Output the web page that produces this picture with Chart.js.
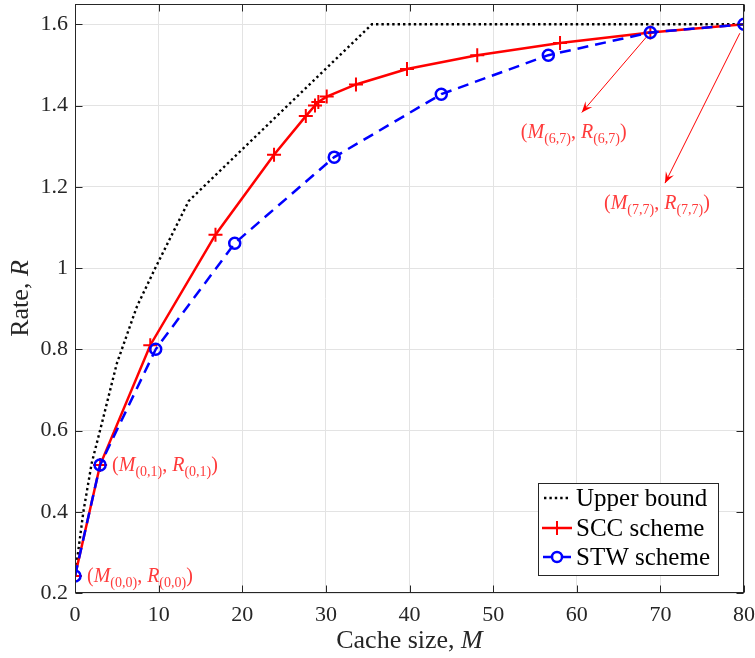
<!DOCTYPE html>
<html><head><meta charset="utf-8">
<script src="https://cdn.jsdelivr.net/npm/chart.js@4.4.1/dist/chart.umd.min.js"></script>
<style>html,body{margin:0;padding:0;background:#fff;}</style>
</head><body>
<canvas id="c" width="755" height="658"></canvas>
<script>
// ---- data ----
const ubM  = [0, 1, 2, 3.3, 5, 7.4, 9.6, 13.6, 35.5, 80];
const ubR  = [0.242, 0.40, 0.52, 0.625, 0.765, 0.905, 1.0, 1.165, 1.6, 1.6];
const sccM = [0, 3, 9, 16.8, 23.8, 27.6, 28.7, 29.1, 30.1, 33.6, 39.7, 48.1, 58.0, 68.8, 80];
const sccR = [0.242, 0.515, 0.81, 1.082, 1.279, 1.374, 1.400, 1.409, 1.422, 1.452, 1.490, 1.524, 1.554, 1.580, 1.60];
const stwM = [0, 3, 9.65, 19.1, 31.0, 43.8, 56.6, 68.8, 80];
const stwR = [0.242, 0.515, 0.80, 1.061, 1.273, 1.428, 1.524, 1.580, 1.60];
const xTicks = [0, 10, 20, 30, 40, 50, 60, 70, 80];
const xTickLabels = ['0', '10', '20', '30', '40', '50', '60', '70', '80'];
const yTicks = [0.2, 0.4, 0.6, 0.8, 1.0, 1.2, 1.4, 1.6];
const yTickLabels = ['0.2', '0.4', '0.6', '0.8', '1', '1.2', '1.4', '1.6'];
const seriesNames = ['Upper bound', 'SCC scheme', 'STW scheme'];
// annotation labels: [i, j, anchor M, anchor R]
const pointLabels = [['0', '0', 0, 0.242], ['0', '1', 3, 0.515]];
// arrow annotations: [tail M, tail R, head M, head R, label i, label j]
const arrowNotes = [[68.3, 1.568, 60.6, 1.383, '6', '7'], [79.5, 1.578, 70.55, 1.209, '7', '7']];

const SERIF = '"Liberation Serif", "Times New Roman", serif';
const AX = '#262626';
const toPts = (xs, ys) => xs.map((x, i) => ({x: x, y: ys[i]}));

function drawRuns(ctx, runs, x, y, color) {
  ctx.fillStyle = color;
  ctx.textBaseline = 'alphabetic';
  ctx.textAlign = 'left';
  let cx = x;
  for (const r of runs) {
    ctx.font = r.f;
    ctx.fillText(r.t, cx, y + (r.dy || 0));
    cx += ctx.measureText(r.t).width;
  }
  return cx - x;
}
function mathRuns(i, j) {
  const N = '20px ' + SERIF, I = 'italic 20px ' + SERIF, S = '14px ' + SERIF;
  const sub = '(' + i + ',' + j + ')';
  return [{t: '(', f: N}, {t: 'M', f: I}, {t: sub, f: S, dy: 5}, {t: ', ', f: N},
          {t: 'R', f: I}, {t: sub, f: S, dy: 5}, {t: ')', f: N}];
}
function arrowHead(ctx, x0, y0, x1, y1) {
  const a = Math.atan2(y1 - y0, x1 - x0), L = 11, W = 4.5;
  ctx.save();
  ctx.translate(x1, y1); ctx.rotate(a);
  ctx.beginPath();
  ctx.moveTo(0, 0); ctx.lineTo(-L, -W); ctx.lineTo(-L * 0.6, 0); ctx.lineTo(-L, W); ctx.closePath();
  ctx.fill();
  ctx.restore();
}

const overlay = {
  id: 'overlay',
  afterDraw(chart) {
    const {ctx, chartArea: {left, right, top, bottom}, scales: {x, y}} = chart;
    ctx.save();
    // frame + inward ticks
    ctx.strokeStyle = AX; ctx.lineWidth = 1;
    const L = Math.round(left) + 0.5, R = Math.round(right) - 0.5, T = Math.round(top) + 0.5, B = Math.round(bottom) - 0.5;
    ctx.strokeRect(L, T, R - L, B - T);
    ctx.beginPath();
    for (const v of xTicks) {
      const px = Math.round(x.getPixelForValue(v)) + 0.5;
      ctx.moveTo(px, B); ctx.lineTo(px, B - 7);
      ctx.moveTo(px, T); ctx.lineTo(px, T + 7);
    }
    for (const v of yTicks) {
      const py = Math.round(y.getPixelForValue(v)) + 0.5;
      ctx.moveTo(L, py); ctx.lineTo(L + 7, py);
      ctx.moveTo(R, py); ctx.lineTo(R - 7, py);
    }
    ctx.stroke();

    // axis titles
    const tN = '26px ' + SERIF, tI = 'italic 26px ' + SERIF;
    ctx.font = tN; let w1 = ctx.measureText('Cache size, ').width;
    ctx.font = tI; let w2 = ctx.measureText('M').width;
    const cxm = (left + right) / 2;
    drawRuns(ctx, [{t: 'Cache size, ', f: tN}, {t: 'M', f: tI}], cxm - (w1 + w2) / 2, 648, AX);
    ctx.save();
    ctx.translate(28, (top + bottom) / 2);
    ctx.rotate(-Math.PI / 2);
    ctx.font = tN; w1 = ctx.measureText('Rate, ').width;
    ctx.font = tI; w2 = ctx.measureText('R').width;
    drawRuns(ctx, [{t: 'Rate, ', f: tN}, {t: 'R', f: tI}], -(w1 + w2) / 2, 0, AX);
    ctx.restore();

    // point labels
    const red = '#ff3b3b';
    for (const p of pointLabels) {
      const px = x.getPixelForValue(p[2]), py = y.getPixelForValue(p[3]);
      drawRuns(ctx, mathRuns(p[0], p[1]), px + 12, py + 6, red);
    }
    // arrows
    ctx.strokeStyle = '#ff0000'; ctx.fillStyle = '#ff0000'; ctx.lineWidth = 1;
    for (const a of arrowNotes) {
      const x0 = x.getPixelForValue(a[0]), y0 = y.getPixelForValue(a[1]);
      const x1 = x.getPixelForValue(a[2]), y1 = y.getPixelForValue(a[3]);
      ctx.beginPath(); ctx.moveTo(x0, y0); ctx.lineTo(x1, y1); ctx.stroke();
      ctx.fillStyle = '#ff0000';
      arrowHead(ctx, x0, y0, x1, y1);
      const runs = mathRuns(a[4], a[5]);
      let tw = 0;
      for (const r of runs) { ctx.font = r.f; tw += ctx.measureText(r.t).width; }
      drawRuns(ctx, runs, x1 - 8 - tw / 2, y1 + 26, red);
    }

    // legend
    const bx = 538.5, by = 483.5, bw = 180, bh = 92;
    ctx.fillStyle = '#fff'; ctx.fillRect(bx, by, bw, bh);
    ctx.strokeStyle = AX; ctx.lineWidth = 1; ctx.strokeRect(bx, by, bw, bh);
    const rows = [498, 528, 557];
    const lf = '25px ' + SERIF;
    ctx.save();
    ctx.strokeStyle = '#000'; ctx.lineWidth = 2.4; ctx.setLineDash([2.4, 3]);
    ctx.beginPath(); ctx.moveTo(544, rows[0]); ctx.lineTo(571, rows[0]); ctx.stroke();
    ctx.restore();
    ctx.strokeStyle = '#ff0000'; ctx.lineWidth = 2.5;
    ctx.beginPath(); ctx.moveTo(542, rows[1]); ctx.lineTo(572, rows[1]); ctx.stroke();
    ctx.lineWidth = 2;
    ctx.beginPath(); ctx.moveTo(557, rows[1] - 7); ctx.lineTo(557, rows[1] + 7); ctx.stroke();
    ctx.strokeStyle = '#0000ff'; ctx.lineWidth = 2.5;
    ctx.beginPath(); ctx.moveTo(543, rows[2]); ctx.lineTo(551, rows[2]); ctx.moveTo(563, rows[2]); ctx.lineTo(571, rows[2]); ctx.stroke();
    ctx.beginPath(); ctx.arc(557, rows[2], 5, 0, Math.PI * 2); ctx.stroke();
    for (let k = 0; k < 3; k++) {
      drawRuns(ctx, [{t: seriesNames[k], f: lf}], 576, rows[k] + 8, '#000');
    }
    ctx.restore();
  }
};

new Chart(document.getElementById('c').getContext('2d'), {
  type: 'line',
  data: {
    datasets: [
      {label: seriesNames[2], data: toPts(stwM, stwR), borderColor: '#0000ff', borderWidth: 2.5,
       borderDash: [11, 7], pointStyle: 'circle', pointRadius: 5.5, pointBorderWidth: 2.5,
       pointBorderColor: '#0000ff', pointBackgroundColor: 'rgba(0,0,0,0)', fill: false, tension: 0, order: 0},
      {label: seriesNames[1], data: toPts(sccM, sccR), borderColor: '#ff0000', borderWidth: 2.5,
       pointStyle: 'cross', pointRadius: 7, pointBorderWidth: 2,
       pointBorderColor: '#ff0000', pointBackgroundColor: '#ff0000', fill: false, tension: 0, order: 1},
      {label: seriesNames[0], data: toPts(ubM, ubR), borderColor: '#000000', borderWidth: 2.4,
       borderDash: [2.4, 3], pointRadius: 0, fill: false, tension: 0, order: 2}
    ]
  },
  options: {
    responsive: false, animation: false, events: [],
    layout: {padding: {left: 0, right: 11, top: 4, bottom: 0}, autoPadding: false},
    plugins: {legend: {display: false}, tooltip: {enabled: false}},
    scales: {
      x: {type: 'linear', min: 0, max: 80,
          afterFit(s) { s.height = 65; s.paddingLeft = 0; s.paddingRight = 0; },
          afterBuildTicks(s) { s.ticks = xTicks.map(v => ({value: v})); },
          ticks: {callback: (v) => xTickLabels[xTicks.indexOf(v)], font: {family: SERIF, size: 22},
                  color: AX, padding: 9, maxRotation: 0, autoSkip: false},
          grid: {color: '#e3e3e3', drawTicks: false, lineWidth: 1}, border: {display: false}},
      y: {type: 'linear', min: 0.2, max: 1.65,
          afterFit(s) { s.width = 75; s.paddingTop = 0; s.paddingBottom = 0; },
          afterBuildTicks(s) { s.ticks = yTicks.map(v => ({value: v})); },
          ticks: {callback: (v) => { const k = yTicks.findIndex(t => Math.abs(t - v) < 1e-9); return k >= 0 ? yTickLabels[k] : ''; },
                  font: {family: SERIF, size: 22}, color: AX, padding: 7, autoSkip: false},
          grid: {color: '#e3e3e3', drawTicks: false, lineWidth: 1}, border: {display: false}}
    }
  },
  plugins: [overlay]
});
</script>
</body></html>
